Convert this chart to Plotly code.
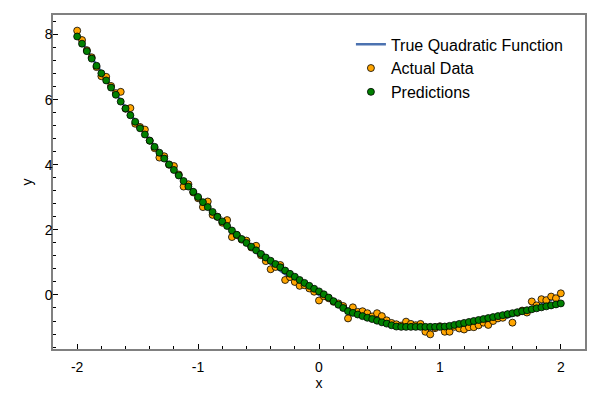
import plotly.graph_objects as go

# sample grid (step 0.04)
x_vals = [
    -2.00, -1.96, -1.92, -1.88, -1.84, -1.80, -1.76, -1.72, -1.68, -1.64,
    -1.60, -1.56, -1.52, -1.48, -1.44, -1.40, -1.36, -1.32, -1.28, -1.24,
    -1.20, -1.16, -1.12, -1.08, -1.04, -1.00, -0.96, -0.92, -0.88, -0.84,
    -0.80, -0.76, -0.72, -0.68, -0.64, -0.60, -0.56, -0.52, -0.48, -0.44,
    -0.40, -0.36, -0.32, -0.28, -0.24, -0.20, -0.16, -0.12, -0.08, -0.04,
    0.00, 0.04, 0.08, 0.12, 0.16, 0.20, 0.24, 0.28, 0.32, 0.36,
    0.40, 0.44, 0.48, 0.52, 0.56, 0.60, 0.64, 0.68, 0.72, 0.76,
    0.80, 0.84, 0.88, 0.92, 0.96, 1.00, 1.04, 1.08, 1.12, 1.16,
    1.20, 1.24, 1.28, 1.32, 1.36, 1.40, 1.44, 1.48, 1.52, 1.56,
    1.60, 1.64, 1.68, 1.72, 1.76, 1.80, 1.84, 1.88, 1.92, 1.96,
    2.00,
]

# noisy observations
actual = [
    8.12, 7.83, 7.52, 7.30, 7.00, 6.72, 6.70, 6.42, 6.20, 6.24,
    5.72, 5.74, 5.26, 5.16, 5.08, 4.74, 4.51, 4.22, 4.26, 4.00,
    3.96, 3.70, 3.33, 3.40, 3.15, 2.97, 2.70, 2.87, 2.46, 2.40,
    2.22, 2.30, 1.78, 1.84, 1.70, 1.67, 1.46, 1.51, 1.22, 1.04,
    0.79, 0.86, 0.92, 0.46, 0.55, 0.40, 0.28, 0.30, 0.20, 0.10,
    -0.17, -0.04, -0.10, -0.21, -0.26, -0.34, -0.72, -0.38, -0.52, -0.50,
    -0.56, -0.66, -0.56, -0.65, -0.78, -0.86, -0.90, -0.94, -0.82, -0.89,
    -0.93, -0.89, -1.13, -1.21, -1.02, -0.96, -1.13, -1.13, -0.98, -1.03,
    -1.06, -0.99, -0.99, -0.93, -0.85, -0.92, -0.80, -0.72, -0.70, -0.60,
    -0.85, -0.55, -0.48, -0.54, -0.20, -0.32, -0.13, -0.16, -0.05, -0.10,
    0.05,
]

# model output
predicted = [
    7.94, 7.72, 7.49, 7.26, 7.04, 6.81, 6.59, 6.37, 6.15, 5.94,
    5.73, 5.52, 5.32, 5.12, 4.93, 4.74, 4.55, 4.37, 4.19, 4.01,
    3.84, 3.67, 3.50, 3.33, 3.17, 3.01, 2.85, 2.70, 2.55, 2.40,
    2.26, 2.12, 1.98, 1.85, 1.72, 1.60, 1.48, 1.37, 1.26, 1.15,
    1.05, 0.95, 0.85, 0.75, 0.65, 0.56, 0.46, 0.37, 0.28, 0.19,
    0.11, 0.02, -0.08, -0.19, -0.30, -0.40, -0.50, -0.55, -0.60, -0.65,
    -0.70, -0.74, -0.79, -0.84, -0.88, -0.93, -0.97, -0.98, -0.98, -0.98,
    -0.98, -0.98, -0.98, -0.98, -0.98, -0.98, -0.97, -0.95, -0.92, -0.89,
    -0.86, -0.83, -0.80, -0.77, -0.74, -0.71, -0.68, -0.65, -0.62, -0.59,
    -0.56, -0.53, -0.50, -0.47, -0.44, -0.41, -0.38, -0.35, -0.32, -0.29,
    -0.26,
]

# true curve, read at 0.2 steps
true_x = [-2.0, -1.8, -1.6, -1.4, -1.2, -1.0, -0.8, -0.6, -0.4, -0.2, 0.0,
          0.2, 0.4, 0.6, 0.8, 1.0, 1.2, 1.4, 1.6, 1.8, 2.0]
true_y = [8.00, 6.84, 5.76, 4.76, 3.84, 3.00, 2.24, 1.56, 0.96, 0.44, 0.00,
          -0.36, -0.64, -0.84, -0.96, -1.00, -0.96, -0.84, -0.64, -0.36, 0.00]

x_ticks = [-2, -1, 0, 1, 2]
x_labels = ['-2', '-1', '0', '1', '2']
y_ticks = [0, 2, 4, 6, 8]
y_labels = ['0', '2', '4', '6', '8']

fig = go.Figure()

fig.add_trace(go.Scatter(
    x=true_x, y=true_y,
    mode='lines',
    line=dict(color='#4C72B0', width=2.5, shape='spline'),
    name='True Quadratic Function',
))
fig.add_trace(go.Scatter(
    x=x_vals, y=actual,
    mode='markers',
    marker=dict(color='#FFA500', size=7, line=dict(color='black', width=0.8)),
    name='Actual Data',
))
fig.add_trace(go.Scatter(
    x=x_vals, y=predicted,
    mode='markers',
    marker=dict(color='#008000', size=7, line=dict(color='black', width=0.8)),
    name='Predictions',
))

axis_style = dict(
    showgrid=False,
    zeroline=False,
    showline=True,
    linecolor='#808080',
    linewidth=1.5,
    mirror=True,
    ticks='inside',
    ticklen=5,
    tickwidth=1,
    tickcolor='black',
    automargin=False,
    tickfont=dict(size=14, color='black'),
    title_font=dict(size=14, color='black'),
)

fig.update_xaxes(
    **axis_style,
    range=[-2.2, 2.2],
    tickmode='array', tickvals=x_ticks, ticktext=x_labels,
    minor=dict(tick0=0, dtick=0.2, ticks='inside', ticklen=3, tickcolor='black'),
    ticklabelstandoff=4,
    title_text='x', title_standoff=4,
)
fig.update_yaxes(
    **axis_style,
    range=[-1.66, 8.6],
    tickmode='array', tickvals=y_ticks, ticktext=y_labels,
    minor=dict(tick0=0, dtick=0.4, ticks='inside', ticklen=3, tickcolor='black'),
    ticklabelstandoff=-4,
    title_text='y', title_standoff=9,
)

# page body adds an 8px margin, so the figure is a bit smaller than the window
fig.update_layout(
    width=592, height=400,
    margin=dict(l=45, r=15, t=7, b=59),
    plot_bgcolor='white',
    paper_bgcolor='white',
    font=dict(family='Liberation Sans, Arial, sans-serif', size=14, color='black'),
    showlegend=True,
    legend=dict(
        x=0.56, y=0.963, xanchor='left', yanchor='top',
        bgcolor='rgba(0,0,0,0)',
        font=dict(size=16),
    ),
)

fig.write_html("out.html")
